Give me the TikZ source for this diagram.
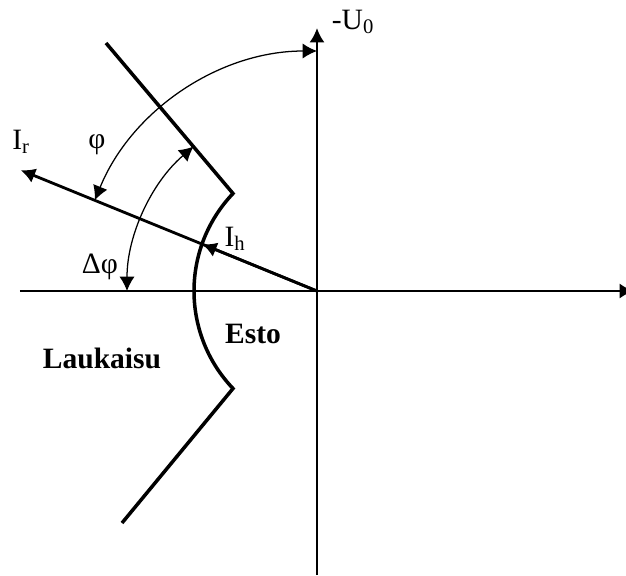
\documentclass[tikz,border=0pt]{standalone}
\usepackage{fontspec}
\setmainfont{Liberation Serif}
\usetikzlibrary{arrows.meta}

\begin{document}
\begin{tikzpicture}[x=0.025cm, y=0.025cm, >={Latex[length=0.36cm,width=0.38cm]},
    axis/.style={line width=1.7pt},
    thickline/.style={line width=2.5pt},
    current/.style={line width=2pt, ->},
    anglearc/.style={line width=0.9pt, <->},
    lbl/.style={font=\fontsize{21}{24}\selectfont, inner sep=0pt},
    boldlbl/.style={lbl, font=\fontsize{21}{24}\selectfont\bfseries}]
    \useasboundingbox (-317,-284) rectangle (309,291);
    \def\Rphi{240}
    \def\Rdphi{190}
    \def\ang{157.8}
    \coordinate (O) at (0,0);

    % ---------- axes ----------
    \draw[axis,->] (-297,0) -- (317,0);
    \draw[axis,->] (0,-284) -- (0,263);
    \node[lbl] (u0) at (36,269) {-U\textsubscript{0}};

    % ---------- characteristic ----------
    \coordinate (top) at (-211,248);
    \coordinate (kinkup) at (-84,97.5);
    \coordinate (bot) at (-195,-232);
    \draw[thickline] (top) -- (kinkup) arc (136.4:223.6:141.4) -- (bot);

    % ---------- currents ----------
    \draw[current] (O) -- (\ang:320) coordinate (ir);
    \draw[current] (O) -- (\ang:124) coordinate (ih);
    \node[lbl] (irl) at (-296,149) {I\textsubscript{r}};
    \node[lbl] (ihl) at (-82,52) {I\textsubscript{h}};

    % ---------- angles ----------
    \draw[anglearc] (90:\Rphi) arc (90:\ang:\Rphi);
    \draw[anglearc] (180:\Rdphi) arc (180:130.5:\Rdphi);
    \node[lbl] (phi) at (-220,146) {φ};
    \node[lbl] (dphi) at (-217,24) {Δφ};

    % ---------- regions ----------
    \node[boldlbl] (esto) at (-64,-43) {Esto};
    \node[boldlbl] (lauk) at (-215,-67) {Laukaisu};
\end{tikzpicture}
\end{document}
